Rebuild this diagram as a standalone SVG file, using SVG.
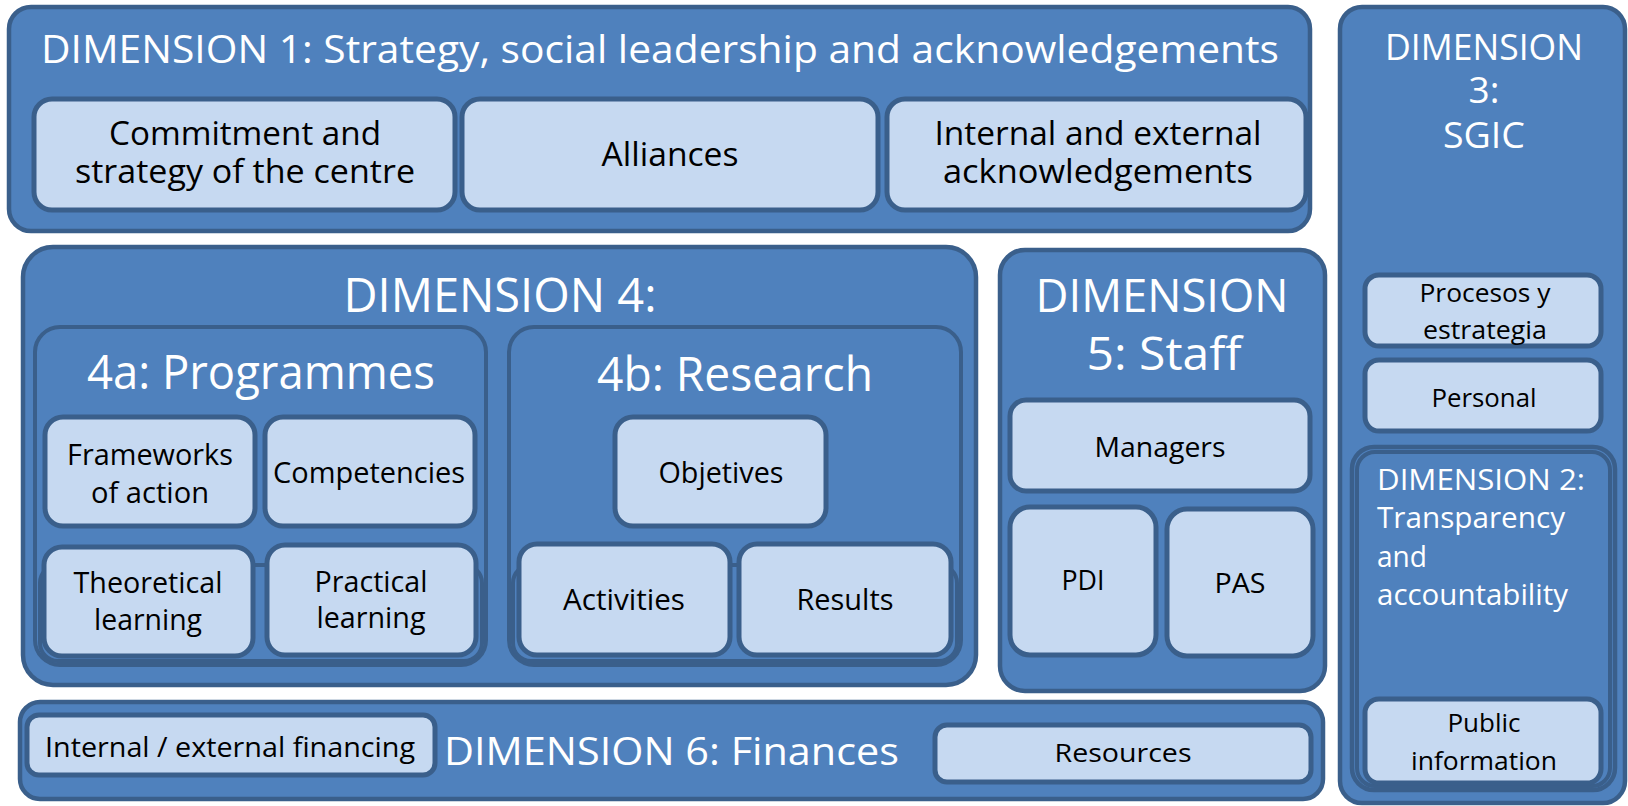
<svg xmlns="http://www.w3.org/2000/svg" width="1628" height="806" viewBox="0 0 1628 806">
<style>
.dim{fill:#4F81BD;stroke:#3A5F8B;stroke-width:4.5}
.grp{fill:#4F81BD;stroke:#3A5F8B;stroke-width:4}
.box{fill:#C6D9F1;stroke:#3A5F8B;stroke-width:5}
text{font-family:"Open Sans","Noto Sans","Liberation Sans",sans-serif}
.t{fill:#FFFFFF;text-anchor:middle}
.tl{fill:#FFFFFF;text-anchor:start}
.b{fill:#000000;text-anchor:middle}
</style>
<rect width="1628" height="806" fill="#FFFFFF"/>
<g id="connectors"/>
<g id="dim1">
  <rect class="dim" x="9" y="7" width="1301" height="224" rx="22"/>
  <text class="t" x="660" y="63" font-size="39" textLength="1238" lengthAdjust="spacingAndGlyphs">DIMENSION 1: Strategy, social leadership and acknowledgements</text>
  <g id="commitment">
    <rect class="box" x="34" y="99" width="421" height="111" rx="18"/>
    <text class="b" x="245" y="145" font-size="32" textLength="272" lengthAdjust="spacingAndGlyphs">Commitment and</text>
    <text class="b" x="245" y="183" font-size="32" textLength="340" lengthAdjust="spacingAndGlyphs">strategy of the centre</text>
  </g>
  <g id="alliances">
    <rect class="box" x="462" y="99" width="416" height="111" rx="18"/>
    <text class="b" x="670" y="166" font-size="32" textLength="137" lengthAdjust="spacingAndGlyphs">Alliances</text>
  </g>
  <g id="acknowledgements">
    <rect class="box" x="887" y="99" width="419" height="111" rx="18"/>
    <text class="b" x="1098" y="145" font-size="32" textLength="327" lengthAdjust="spacingAndGlyphs">Internal and external</text>
    <text class="b" x="1098" y="183" font-size="32" textLength="310" lengthAdjust="spacingAndGlyphs">acknowledgements</text>
  </g>
</g>
<g id="dim4">
  <rect class="dim" x="23" y="247" width="953" height="438" rx="30"/>
  <text class="t" x="500" y="312" font-size="47" textLength="313" lengthAdjust="spacingAndGlyphs">DIMENSION 4:</text>
  <g id="dim4a">
    <rect class="grp" x="35" y="327" width="451" height="338" rx="25"/>
    <rect class="grp" x="40" y="565" width="442" height="96" rx="18"/>
    <text class="t" x="261" y="389" font-size="47" textLength="348" lengthAdjust="spacingAndGlyphs">4a: Programmes</text>
    <g id="frameworks">
      <rect class="box" x="45" y="417" width="210" height="109" rx="18"/>
      <text class="b" x="150" y="465" font-size="29" textLength="166" lengthAdjust="spacingAndGlyphs">Frameworks</text>
      <text class="b" x="150" y="503" font-size="29" textLength="118" lengthAdjust="spacingAndGlyphs">of action</text>
    </g>
    <g id="competencies">
      <rect class="box" x="265" y="417" width="210" height="109" rx="18"/>
      <text class="b" x="369" y="483" font-size="29" textLength="192" lengthAdjust="spacingAndGlyphs">Competencies</text>
    </g>
    <g id="theoretical">
      <rect class="box" x="44" y="547" width="209" height="109" rx="18"/>
      <text class="b" x="148" y="593" font-size="29" textLength="149" lengthAdjust="spacingAndGlyphs">Theoretical</text>
      <text class="b" x="148" y="630" font-size="29" textLength="108" lengthAdjust="spacingAndGlyphs">learning</text>
    </g>
    <g id="practical">
      <rect class="box" x="267" y="545" width="209" height="110" rx="18"/>
      <text class="b" x="371" y="592" font-size="29" textLength="113" lengthAdjust="spacingAndGlyphs">Practical</text>
      <text class="b" x="371" y="628" font-size="29" textLength="109" lengthAdjust="spacingAndGlyphs">learning</text>
    </g>
  </g>
  <g id="dim4b">
    <rect class="grp" x="509" y="327" width="452" height="338" rx="25"/>
    <rect class="grp" x="513" y="565" width="444" height="96" rx="18"/>
    <text class="t" x="735" y="391" font-size="47" textLength="276" lengthAdjust="spacingAndGlyphs">4b: Research</text>
    <g id="objetives">
      <rect class="box" x="615" y="417" width="211" height="109" rx="18"/>
      <text class="b" x="721" y="483" font-size="29" textLength="125" lengthAdjust="spacingAndGlyphs">Objetives</text>
    </g>
    <g id="activities">
      <rect class="box" x="519" y="544" width="211" height="111" rx="18"/>
      <text class="b" x="624" y="610" font-size="29" textLength="122" lengthAdjust="spacingAndGlyphs">Activities</text>
    </g>
    <g id="results">
      <rect class="box" x="739" y="544" width="212" height="111" rx="18"/>
      <text class="b" x="845" y="610" font-size="29" textLength="97" lengthAdjust="spacingAndGlyphs">Results</text>
    </g>
  </g>
</g>
<g id="dim5">
  <rect class="dim" x="1000" y="250" width="325" height="441" rx="25"/>
  <text class="t" x="1162" y="312" font-size="46" textLength="253" lengthAdjust="spacingAndGlyphs">DIMENSION</text>
  <text class="t" x="1164" y="370" font-size="46" textLength="155" lengthAdjust="spacingAndGlyphs">5: Staff</text>
  <g id="managers">
    <rect class="box" x="1010" y="400" width="300" height="91" rx="16"/>
    <text class="b" x="1160" y="457" font-size="28" textLength="131" lengthAdjust="spacingAndGlyphs">Managers</text>
  </g>
  <g id="pdi">
    <rect class="box" x="1010" y="507" width="146" height="148" rx="20"/>
    <text class="b" x="1083" y="590" font-size="28" textLength="43" lengthAdjust="spacingAndGlyphs">PDI</text>
  </g>
  <g id="pas">
    <rect class="box" x="1167" y="509" width="146" height="147" rx="20"/>
    <text class="b" x="1240" y="593" font-size="28" textLength="51" lengthAdjust="spacingAndGlyphs">PAS</text>
  </g>
</g>
<g id="dim3">
  <rect class="dim" x="1340" y="7" width="285" height="796" rx="22"/>
  <text class="t" x="1484" y="60" font-size="37" textLength="198" lengthAdjust="spacingAndGlyphs">DIMENSION</text>
  <text class="t" x="1484" y="103" font-size="37">3:</text>
  <text class="t" x="1484" y="148" font-size="37" textLength="82" lengthAdjust="spacingAndGlyphs">SGIC</text>
  <g id="procesos">
    <rect class="box" x="1365" y="275" width="236" height="71" rx="14"/>
    <text class="b" x="1485" y="302" font-size="26" textLength="131" lengthAdjust="spacingAndGlyphs">Procesos y</text>
    <text class="b" x="1485" y="339" font-size="26" textLength="124" lengthAdjust="spacingAndGlyphs">estrategia</text>
  </g>
  <g id="personal">
    <rect class="box" x="1365" y="360" width="236" height="71" rx="14"/>
    <text class="b" x="1484" y="407" font-size="26" textLength="105" lengthAdjust="spacingAndGlyphs">Personal</text>
  </g>
</g>
<g id="dim2">
  <rect class="dim" x="1352" y="447" width="263" height="343" rx="22"/>
  <rect class="grp" x="1357" y="452" width="253" height="334" rx="18"/>
  <text class="tl" x="1377" y="490" font-size="30" textLength="208" lengthAdjust="spacingAndGlyphs">DIMENSION 2:</text>
  <text class="tl" x="1377" y="528" font-size="30" textLength="188" lengthAdjust="spacingAndGlyphs">Transparency</text>
  <text class="tl" x="1377" y="567" font-size="30" textLength="50" lengthAdjust="spacingAndGlyphs">and</text>
  <text class="tl" x="1377" y="605" font-size="30" textLength="191" lengthAdjust="spacingAndGlyphs">accountability</text>
  <g id="public">
    <rect class="box" x="1365" y="699" width="236" height="84" rx="14"/>
    <text class="b" x="1484" y="732" font-size="26" textLength="73" lengthAdjust="spacingAndGlyphs">Public</text>
    <text class="b" x="1484" y="770" font-size="26" textLength="146" lengthAdjust="spacingAndGlyphs">information</text>
  </g>
</g>
<g id="dim6">
  <rect class="dim" x="20" y="702" width="1303" height="97" rx="20"/>
  <text class="tl" x="444" y="765" font-size="38" textLength="455" lengthAdjust="spacingAndGlyphs">DIMENSION 6: Finances</text>
  <g id="financing">
    <rect class="box" x="27" y="715" width="408" height="60" rx="12"/>
    <text class="b" x="230" y="757" font-size="28" textLength="370" lengthAdjust="spacingAndGlyphs">Internal / external financing</text>
  </g>
  <g id="resources">
    <rect class="box" x="935" y="725" width="376" height="57" rx="12"/>
    <text class="b" x="1123" y="762" font-size="26" textLength="137" lengthAdjust="spacingAndGlyphs">Resources</text>
  </g>
</g>
</svg>
